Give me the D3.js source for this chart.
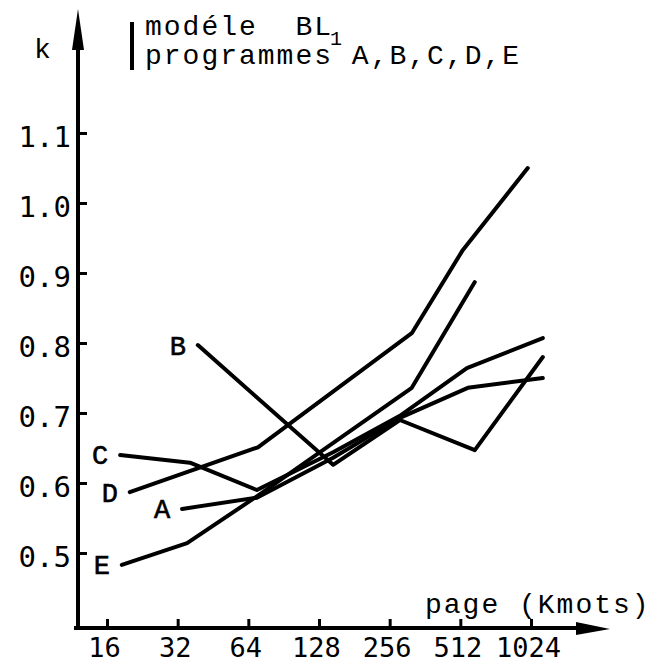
<!DOCTYPE html>
<html>
<head>
<meta charset="utf-8">
<script src="https://cdn.jsdelivr.net/npm/d3@7"></script>
<style>
  html, body { margin: 0; padding: 0; background: #fff; }
  svg { display: block; }
</style>
</head>
<body>
<div id="chart"></div>
<script>
// ---- data ----
const xTicks = [16, 32, 64, 128, 256, 512, 1024];
const yTicks = [0.5, 0.6, 0.7, 0.8, 0.9, 1.0, 1.1];
const seriesNames = ["A", "B", "C", "D", "E"];
const xA = [33.4, 69.6, 147, 283, 551, 1150];
const kA = [0.563, 0.579, 0.636, 0.693, 0.736, 0.750];
const xB = [39, 147, 283, 590, 1150];
const kB = [0.797, 0.626, 0.690, 0.647, 0.780];
const xC = [18.2, 36.1, 69.6, 147, 283, 546, 1150];
const kC = [0.640, 0.629, 0.590, 0.644, 0.696, 0.764, 0.807];
const xD = [20, 70.3, 318, 525, 992];
const kD = [0.587, 0.651, 0.814, 0.933, 1.050];
const xE = [18.5, 35.1, 69.6, 318, 590];
const kE = [0.483, 0.514, 0.581, 0.736, 0.887];
const titleLine1 = "modéle  BL";
const titleSub = "1";
const titleLine2 = "programmes A,B,C,D,E";
const xTitle = "page (Kmots)";
const yTitle = "k";

const W = 663, H = 666;
const svg = d3.select("#chart").append("svg").attr("width", W).attr("height", H);

const x = d3.scaleLog().base(2).domain([16, 1024]).range([107, 531]);
const y = d3.scaleLinear().domain([0.5, 1.1]).range([553, 133]);

const axisX0 = 78, axisY0 = 628;
const mono = "'Liberation Mono', 'Courier New', monospace";
const gothic = "'DejaVu Sans Mono', monospace";

// axes lines with arrows
svg.append("line").attr("x1", axisX0).attr("y1", axisY0 + 1).attr("x2", axisX0).attr("y2", 40)
  .attr("stroke", "#000").attr("stroke-width", 4);
svg.append("path").attr("d", `M${axisX0},9 L${axisX0 - 6},50 L${axisX0 + 6},50 Z`).attr("fill", "#000");
svg.append("line").attr("x1", axisX0 - 4).attr("y1", axisY0).attr("x2", 585).attr("y2", axisY0)
  .attr("stroke", "#000").attr("stroke-width", 4);
svg.append("path").attr("d", `M610,${axisY0 + 1} L576,${axisY0 - 6} L576,${axisY0 + 7} Z`).attr("fill", "#000");

// y axis ticks
const gy = svg.append("g").attr("transform", `translate(${axisX0},0)`)
  .call(d3.axisLeft(y).tickValues(yTicks).tickSizeInner(-9).tickSizeOuter(0).tickPadding(7)
    .tickFormat(d3.format(".1f")));
gy.select(".domain").remove();
gy.selectAll(".tick line").attr("stroke", "#000").attr("stroke-width", 3);
gy.selectAll(".tick text").attr("font-family", gothic).attr("font-size", 29).attr("fill", "#000")
  .attr("dy", "0.45em");

// x axis ticks
const gx = svg.append("g").attr("transform", `translate(0,${axisY0})`)
  .call(d3.axisBottom(x).tickValues(xTicks).tickSizeInner(-9).tickSizeOuter(0).tickPadding(10)
    .tickFormat(d3.format("d")));
gx.select(".domain").remove();
gx.selectAll(".tick line").attr("stroke", "#000").attr("stroke-width", 3);
gx.selectAll(".tick text").attr("font-family", gothic).attr("font-size", 27).attr("fill", "#000")
  .attr("dx", -3);

// series
const series = [
  { name: "A", xs: xA, ks: kA },
  { name: "B", xs: xB, ks: kB },
  { name: "C", xs: xC, ks: kC },
  { name: "D", xs: xD, ks: kD },
  { name: "E", xs: xE, ks: kE }
];
const line = d3.line().x(d => x(d[0])).y(d => y(d[1]));
svg.append("g").selectAll("path").data(series).join("path")
  .attr("d", s => line(s.xs.map((v, i) => [v, s.ks[i]])))
  .attr("fill", "none").attr("stroke", "#000").attr("stroke-width", 4)
  .attr("stroke-linecap", "round").attr("stroke-linejoin", "round");

// series labels, placed left of first point
svg.append("g").selectAll("text").data(series).join("text")
  .attr("x", s => x(s.xs[0]) - 20)
  .attr("y", s => y(s.ks[0]))
  .attr("dy", "0.35em")
  .attr("text-anchor", "middle")
  .attr("font-family", mono).attr("font-size", 27).attr("fill", "#000")
  .attr("stroke", "#000").attr("stroke-width", 0.6)
  .text(s => s.name);

// axis titles
svg.append("text").attr("x", 425).attr("y", 613).attr("font-family", mono).attr("font-size", 28)
  .attr("letter-spacing", 2).attr("fill", "#000").text(xTitle);
svg.append("text").attr("x", 34).attr("y", 58).attr("font-family", mono).attr("font-size", 28)
  .attr("fill", "#000").text(yTitle);

// legend / title block
svg.append("line").attr("x1", 132).attr("y1", 22).attr("x2", 132).attr("y2", 70)
  .attr("stroke", "#000").attr("stroke-width", 4);
const t1 = svg.append("text").attr("x", 145).attr("y", 35).attr("font-family", mono).attr("font-size", 28)
  .attr("letter-spacing", 2).attr("xml:space", "preserve").style("white-space", "pre")
  .attr("fill", "#000");
t1.append("tspan").text(titleLine1);
t1.append("tspan").attr("font-size", 20).attr("dy", 10).attr("dx", -3).attr("letter-spacing", 0).text(titleSub);
svg.append("text").attr("x", 145).attr("y", 64).attr("font-family", mono).attr("font-size", 28)
  .attr("letter-spacing", 2).attr("xml:space", "preserve").style("white-space", "pre")
  .attr("fill", "#000").text(titleLine2);
</script>
</body>
</html>
